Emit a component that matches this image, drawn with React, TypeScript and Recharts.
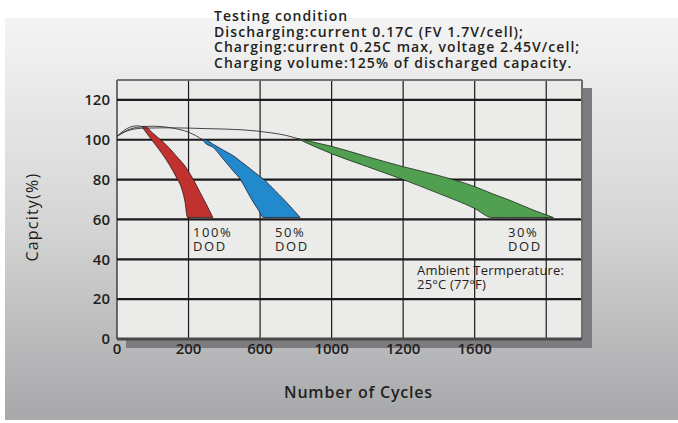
import { ComposedChart, Area, Line, XAxis, YAxis, CartesianGrid, ReferenceLine, Label } from 'recharts';

// x ticks sit on the grid every 200 cycles, but the printed labels are irregular
const xTicks = [0, 200, 400, 600, 800, 1000, 1200];
const xTickLabels = ['0', '200', '600', '1000', '1200', '1600', ''];
const yTicks = [0, 20, 40, 60, 80, 100, 120];

const titleLines = [
  'Testing condition',
  'Discharging:current 0.17C (FV 1.7V/cell);',
  'Charging:current 0.25C max, voltage 2.45V/cell;',
  'Charging volume:125% of discharged capacity.',
];

// bands: [lower edge, upper edge] in capacity %
const dod100 = [
  { c: 69, r: [106.7, 106.7] },
  { c: 78, r: [104.5, 106.7] },
  { c: 100, r: [99.2, 103.3] },
  { c: 130, r: [92, 98.7] },
  { c: 148, r: [87, 95.5] },
  { c: 165, r: [81.5, 92] },
  { c: 181, r: [75.4, 88.8] },
  { c: 190, r: [69, 86.8] },
  { c: 197, r: [61, 85] },
  { c: 215, r: [61, 79.5] },
  { c: 232, r: [61, 73.7] },
  { c: 250, r: [61, 67.5] },
  { c: 268, r: [61, 61] },
];

const dod50 = [
  { c: 240, r: [100, 100] },
  { c: 246, r: [98.5, 100] },
  { c: 270, r: [96, 97.6] },
  { c: 297, r: [90.3, 94.8] },
  { c: 325, r: [84.3, 92] },
  { c: 344, r: [80.3, 89.4] },
  { c: 365, r: [73.7, 86.5] },
  { c: 381, r: [68.7, 84.2] },
  { c: 395, r: [64.8, 82.2] },
  { c: 409, r: [61, 80.3] },
  { c: 440, r: [61, 74.8] },
  { c: 465, r: [61, 70.3] },
  { c: 490, r: [61, 65.4] },
  { c: 512, r: [61, 61] },
];

const dod30 = [
  { c: 503, r: [100.7, 100.7] },
  { c: 550, r: [96.8, 98.8] },
  { c: 600, r: [93, 96.7] },
  { c: 700, r: [86.5, 91.5] },
  { c: 800, r: [80, 86.5] },
  { c: 900, r: [73, 82] },
  { c: 1000, r: [65.5, 76.5] },
  { c: 1048, r: [61, 73] },
  { c: 1100, r: [61, 69.5] },
  { c: 1160, r: [61, 65] },
  { c: 1220, r: [61, 61] },
];

// thin lead-in curves from the start point to each band
const leadA = [
  { c: 0, v: 101.7 },
  { c: 18, v: 104.5 },
  { c: 36, v: 106.3 },
  { c: 55, v: 107 },
  { c: 69, v: 106.7 },
];
const leadB = [
  { c: 0, v: 101.7 },
  { c: 20, v: 104 },
  { c: 55, v: 106.2 },
  { c: 100, v: 106.8 },
  { c: 157, v: 105.8 },
  { c: 200, v: 103.8 },
  { c: 240, v: 100 },
];
const leadC = [
  { c: 0, v: 101.7 },
  { c: 25, v: 104.2 },
  { c: 70, v: 105.8 },
  { c: 150, v: 106 },
  { c: 250, v: 105.6 },
  { c: 350, v: 105 },
  { c: 430, v: 103.5 },
  { c: 470, v: 102.3 },
  { c: 503, v: 100.7 },
];

const FONT = '"Open Sans", "DejaVu Sans", sans-serif';
const INK = '#231f20';

const note = (left: number, top: number, text: string, size = 13, spacing = 0.5) => (
  <div
    style={{
      position: 'absolute',
      left,
      top,
      fontSize: size,
      lineHeight: '14px',
      color: INK,
      fontFamily: FONT,
      whiteSpace: 'pre',
      letterSpacing: spacing,
    }}
  >
    {text}
  </div>
);

export default function App() {
  return (
    <div
      style={{
        position: 'absolute',
        left: 0,
        top: 0,
        width: 678,
        height: 423,
        background: '#fff',
        overflow: 'hidden',
        fontFamily: FONT,
      }}
    >
      <div
        style={{
          position: 'absolute',
          left: 5,
          top: 18,
          width: 673,
          height: 402,
          background: 'linear-gradient(#f4f4f4, #d6d6d6 50%, #a7a8aa)',
        }}
      />
      {/* drop shadow of the plot box */}
      <div style={{ position: 'absolute', left: 126, top: 88, width: 466, height: 260, background: '#7d7b80' }} />

      <div style={{ position: 'absolute', left: 0, top: 0 }}>
        <ComposedChart width={678} height={423} margin={{ top: 80, right: 96, left: 0, bottom: 0 }}>
          <CartesianGrid fill="#ebebea" vertical={false} stroke="#1c1a1a" strokeWidth={2.2} />
          <CartesianGrid horizontal={false} stroke="#1c1a1a" strokeWidth={1.2} />
          <XAxis
            type="number"
            dataKey="c"
            domain={[0, 1300]}
            ticks={xTicks}
            tickFormatter={(v: number) => xTickLabels[xTicks.indexOf(v)]}
            allowDataOverflow
            axisLine={false}
            tickLine={false}
            tickSize={0}
            tickMargin={4}
            height={84}
            tick={{ fontSize: 15, fill: INK, fontFamily: FONT, fontWeight: 600 }}
          >
            <Label
              value="Number of Cycles"
              position="insideBottom"
              offset={25}
              dx={9}
              style={{ fontSize: 16, fill: INK, fontFamily: FONT, fontWeight: 600, letterSpacing: 0.8 }}
            />
          </XAxis>
          <YAxis
            type="number"
            domain={[0, 130]}
            ticks={yTicks}
            allowDataOverflow
            axisLine={false}
            tickLine={false}
            tickSize={0}
            tickMargin={7}
            width={117}
            tick={{ fontSize: 15, fill: INK, fontFamily: FONT, fontWeight: 600 }}
          >
            <Label
              value="Capcity(%)"
              angle={-90}
              position="insideLeft"
              offset={32}
              dy={52}
              style={{ fontSize: 16, fill: INK, fontFamily: FONT, fontWeight: 500, letterSpacing: 1.2 }}
            />
          </YAxis>
          <ReferenceLine y={130} stroke="#747474" strokeWidth={2} />
          <ReferenceLine x={1300} stroke="#6e6e6e" strokeWidth={2} />
          <ReferenceLine y={0} stroke="#4a4848" strokeWidth={3} />

          <Area data={dod100} dataKey="r" type="monotone" fill="#c1312f" fillOpacity={1} stroke="#2a1a1a" strokeWidth={0.8} isAnimationActive={false} />
          <Area data={dod50} dataKey="r" type="monotone" fill="#2389cd" fillOpacity={1} stroke="#1a2030" strokeWidth={0.8} isAnimationActive={false} />
          <Area data={dod30} dataKey="r" type="monotone" fill="#519f50" fillOpacity={1} stroke="#1a2a1a" strokeWidth={0.8} isAnimationActive={false} />

          <Line data={leadA} dataKey="v" type="monotone" stroke="#333" strokeWidth={0.9} dot={false} isAnimationActive={false} />
          <Line data={leadB} dataKey="v" type="monotone" stroke="#333" strokeWidth={0.9} dot={false} isAnimationActive={false} />
          <Line data={leadC} dataKey="v" type="monotone" stroke="#333" strokeWidth={0.9} dot={false} isAnimationActive={false} />
        </ComposedChart>
      </div>

      <div
        style={{
          position: 'absolute',
          left: 214,
          top: 8,
          fontSize: 14,
          lineHeight: '15.5px',
          fontWeight: 600,
          color: INK,
          fontFamily: FONT,
          whiteSpace: 'pre',
          letterSpacing: 1.05,
        }}
      >
        {titleLines.join('\n')}
      </div>

      {note(193, 225, '100%\nDOD', 13, 1.6)}
      {note(275, 225, '50%\nDOD', 13, 1.6)}
      {note(508, 225, '30%\nDOD', 13, 1.6)}
      {note(417, 263, 'Ambient Termperature:\n25°C (77°F)', 13, 0.2)}
    </div>
  );
}
